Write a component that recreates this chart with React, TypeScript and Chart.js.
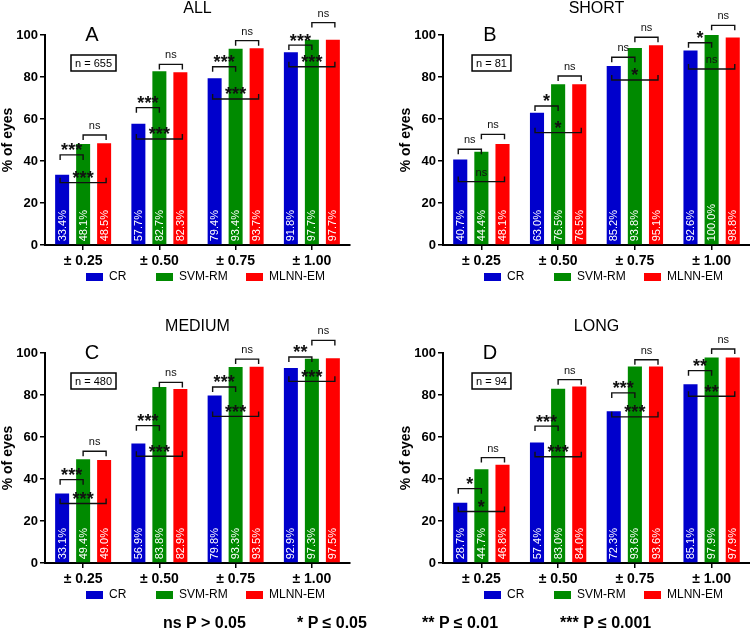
import React, { useEffect, useRef } from 'react';
import { Chart, registerables } from 'chart.js';

Chart.register(...registerables);

const FONT = "'Liberation Sans', Arial, Helvetica, sans-serif";

// ---------- data ----------
const categories = ['± 0.25', '± 0.50', '± 0.75', '± 1.00'];
const seriesNames = ['CR', 'SVM-RM', 'MLNN-EM'];
const seriesColors = ['#0000CC', '#008A00', '#FF0000'];

const allCR = [33.4, 57.7, 79.4, 91.8];
const allSVM = [48.1, 82.7, 93.4, 97.7];
const allMLNN = [48.5, 82.3, 93.7, 97.7];

const shortCR = [40.7, 63.0, 85.2, 92.6];
const shortSVM = [44.4, 76.5, 93.8, 100.0];
const shortMLNN = [48.1, 76.5, 95.1, 98.8];

const mediumCR = [33.1, 56.9, 79.8, 92.9];
const mediumSVM = [49.4, 83.8, 93.3, 97.3];
const mediumMLNN = [49.0, 82.9, 93.5, 97.5];

const longCR = [28.7, 57.4, 72.3, 85.1];
const longSVM = [44.7, 83.0, 93.6, 97.9];
const longMLNN = [46.8, 84.0, 93.6, 97.9];

// significance per category: [CR vs SVM, SVM vs MLNN, CR vs MLNN]
const allSig = [['***', 'ns', '***'], ['***', 'ns', '***'], ['***', 'ns', '***'], ['***', 'ns', '***']];
const shortSig = [['ns', 'ns', 'ns'], ['*', 'ns', '*'], ['ns', 'ns', '*'], ['*', 'ns', 'ns']];
const mediumSig = [['***', 'ns', '***'], ['***', 'ns', '***'], ['***', 'ns', '***'], ['**', 'ns', '***']];
const longSig = [['*', 'ns', '*'], ['***', 'ns', '***'], ['***', 'ns', '***'], ['**', 'ns', '**']];

// bracket levels (% of eyes) per category: [CR vs SVM, SVM vs MLNN, CR vs MLNN]
const allLevels = [[42.9, 52.4, 29.7], [65.4, 86.0, 50.5], [84.9, 97.3, 69.5], [95.2, 105.9, 84.9]];
const shortLevels = [[45.6, 52.7, 30.2], [66.2, 80.5, 53.5], [89.4, 98.9, 78.6], [96.3, 104.6, 83.8]];
const mediumLevels = [[39.7, 53.2, 28.3], [65.4, 86.0, 50.8], [83.8, 97.1, 69.8], [98.1, 106.0, 86.5]];
const longLevels = [[35.4, 50.2, 24.5], [65.2, 87.3, 50.6], [81.0, 96.8, 69.6], [91.6, 101.9, 79.4]];

const footerItems = ['ns P > 0.05', '* P ≤ 0.05', '** P ≤ 0.01', '*** P ≤ 0.001'];

type Panel = {
  title: string;
  letter: string;
  n: number;
  values: number[][];
  sig: string[][];
  levels: number[][];
};

const panels: Panel[] = [
  { title: 'ALL', letter: 'A', n: 655, values: [allCR, allSVM, allMLNN], sig: allSig, levels: allLevels },
  { title: 'SHORT', letter: 'B', n: 81, values: [shortCR, shortSVM, shortMLNN], sig: shortSig, levels: shortLevels },
  { title: 'MEDIUM', letter: 'C', n: 480, values: [mediumCR, mediumSVM, mediumMLNN], sig: mediumSig, levels: mediumLevels },
  { title: 'LONG', letter: 'D', n: 94, values: [longCR, longSVM, longMLNN], sig: longSig, levels: longLevels },
];

// bracket definitions: [from dataset, to dataset, tick direction (1 down, -1 up), left extra, right extra]
const bracketDefs: [number, number, number, number, number][] = [
  [0, 1, 1, -2, 0],
  [1, 2, 1, 0, 2],
  [0, 2, -1, -2, 2],
];

const legendOffsets = [41, 111, 201];

function makeAnnot(panel: Panel) {
  return {
    id: 'annot',
    afterDraw(chart: any) {
      const ctx: CanvasRenderingContext2D = chart.ctx;
      const area = chart.chartArea;
      const ys = chart.scales.y;
      ctx.save();
      ctx.fillStyle = '#000';
      ctx.strokeStyle = '#000';

      // title
      ctx.textAlign = 'center';
      ctx.textBaseline = 'middle';
      ctx.font = `16px ${FONT}`;
      ctx.fillText(panel.title, (area.left + area.right) / 2, 9);

      // panel letter
      ctx.font = `20px ${FONT}`;
      ctx.fillText(panel.letter, area.left + 47, area.top);

      // n box
      ctx.font = `11px ${FONT}`;
      const nt = `n = ${panel.n}`;
      const tw = ctx.measureText(nt).width;
      const bx = area.left + 48.5;
      ctx.lineWidth = 1.5;
      ctx.strokeRect(bx - tw / 2 - 4, area.top + 20, tw + 8, 16);
      ctx.fillText(nt, bx, area.top + 28.5);

      // value labels inside bars
      for (let d = 0; d < 3; d++) {
        const meta = chart.getDatasetMeta(d);
        meta.data.forEach((bar: any, i: number) => {
          const v = panel.values[d][i];
          ctx.save();
          ctx.translate(bar.x, bar.base - 3);
          ctx.rotate(-Math.PI / 2);
          ctx.textAlign = 'left';
          ctx.textBaseline = 'middle';
          ctx.fillStyle = '#fff';
          ctx.font = `11px ${FONT}`;
          ctx.fillText(v.toFixed(1) + '%', 0, 0.5);
          ctx.restore();
        });
      }

      // brackets
      ctx.lineWidth = 1.4;
      ctx.strokeStyle = '#111';
      for (let i = 0; i < categories.length; i++) {
        bracketDefs.forEach(([a, b, dir, ex1, ex2], k) => {
          const barA = chart.getDatasetMeta(a).data[i];
          const barB = chart.getDatasetMeta(b).data[i];
          const x1 = barA.x + ex1;
          const x2 = barB.x + ex2;
          const yp = ys.getPixelForValue(panel.levels[i][k]);
          ctx.beginPath();
          ctx.moveTo(x1, yp + dir * 5);
          ctx.lineTo(x1, yp);
          ctx.lineTo(x2, yp);
          ctx.lineTo(x2, yp + dir * 5);
          ctx.stroke();
          const label = panel.sig[i][k];
          const cx = (x1 + x2) / 2;
          const cy = yp - 9;
          ctx.fillStyle = '#111';
          ctx.textAlign = 'center';
          ctx.textBaseline = 'alphabetic';
          if (label === 'ns') {
            ctx.font = `11px ${FONT}`;
            ctx.fillText(label, cx, cy + 3);
          } else {
            ctx.font = `bold 18px ${FONT}`;
            ctx.fillText(label, cx, cy + 0.58 * 18);
          }
        });
      }

      // legend
      const ly = area.bottom + 32;
      ctx.textAlign = 'left';
      ctx.textBaseline = 'middle';
      ctx.font = `12px ${FONT}`;
      seriesNames.forEach((name, i) => {
        const x0 = area.left + legendOffsets[i];
        ctx.fillStyle = seriesColors[i];
        ctx.fillRect(x0, ly - 4, 17, 8);
        ctx.fillStyle = '#000';
        ctx.fillText(name, x0 + 23, ly);
      });
      ctx.restore();
    },
  };
}

function PanelChart({ panel, left, top, width, height, padRight }: { panel: Panel; left: number; top: number; width: number; height: number; padRight: number }) {
  const ref = useRef<HTMLCanvasElement>(null);
  useEffect(() => {
    const chart = new Chart(ref.current as HTMLCanvasElement, {
      type: 'bar',
      data: {
        labels: categories,
        datasets: seriesNames.map((name, i) => ({
          label: name,
          data: panel.values[i],
          backgroundColor: seriesColors[i],
          borderWidth: 0,
          categoryPercentage: 0.826,
          barPercentage: 0.667,
        })),
      },
      options: {
        animation: false,
        responsive: false,
        maintainAspectRatio: false,
        layout: { padding: { top: 35, bottom: 35, left: 0, right: padRight } },
        plugins: {
          legend: { display: false },
          title: { display: false },
          tooltip: { enabled: false },
        },
        scales: {
          x: {
            type: 'category',
            offset: true,
            grid: { display: true, drawOnChartArea: false, offset: false, color: '#000', lineWidth: 1.5, tickLength: 5 },
            border: { display: true, color: '#000', width: 2 },
            ticks: { color: '#000', font: { family: FONT, size: 14, weight: 'bold' }, padding: 3, maxRotation: 0, autoSkip: false },
            afterFit: (s: any) => { s.height = 20; },
          },
          y: {
            min: 0,
            max: 100,
            ticks: { stepSize: 20, color: '#000', font: { family: FONT, size: 13, weight: 'bold' }, padding: 2 },
            grid: { display: true, drawOnChartArea: false, color: '#000', lineWidth: 1.5, tickLength: 5 },
            border: { display: true, color: '#000', width: 2 },
            title: { display: true, text: '% of eyes', color: '#000', font: { family: FONT, size: 14, weight: 'bold' }, padding: 0 },
            afterFit: (s: any) => { s.width = 45; },
          },
        },
      } as any,
      plugins: [makeAnnot(panel)],
    });
    return () => chart.destroy();
  }, [panel]);
  return (
    <canvas
      ref={ref}
      width={width}
      height={height}
      style={{ position: 'absolute', left, top, width, height }}
    />
  );
}

const footerLefts = [163, 297, 422, 560];

export default function App() {
  return (
    <div style={{ position: 'absolute', left: 0, top: 0, width: 750, height: 631, background: '#fff', overflow: 'hidden', fontFamily: FONT }}>
      <PanelChart panel={panels[0]} left={0} top={0} width={375} height={300} padRight={25} />
      <PanelChart panel={panels[1]} left={398} top={0} width={352} height={300} padRight={0} />
      <PanelChart panel={panels[2]} left={0} top={318} width={375} height={300} padRight={25} />
      <PanelChart panel={panels[3]} left={398} top={318} width={352} height={300} padRight={0} />
      {footerItems.map((t, i) => (
        <span
          key={t}
          style={{ position: 'absolute', left: footerLefts[i], top: 614, fontSize: 16, lineHeight: '18px', fontWeight: 'bold', color: '#000', whiteSpace: 'nowrap' }}
        >
          {t}
        </span>
      ))}
    </div>
  );
}
